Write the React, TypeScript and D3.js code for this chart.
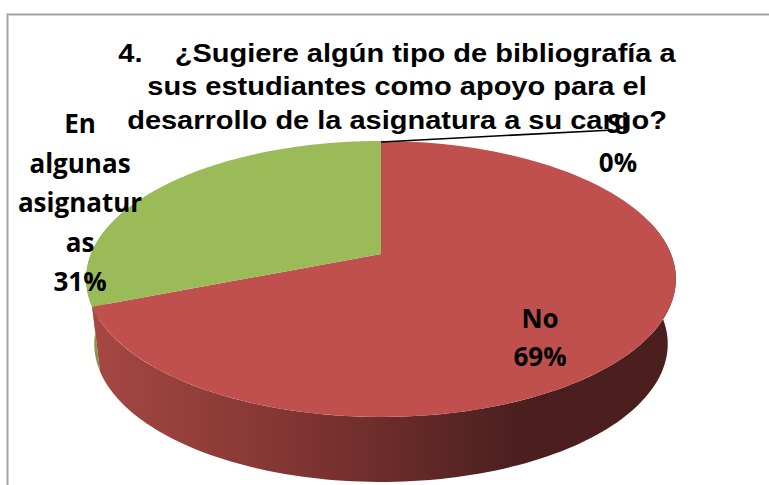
import React from 'react';
import * as d3 from 'd3';

const categories = ['Si', 'No', 'En algunas asignaturas'];
const values = [0, 69, 31];
const topColors = ['#4f81bd', '#bf504d', '#9bbb59'];
const sideColors = ['#3f6797', 'url(#redSide)', '#7f9a48'];
const titleLines = ['4.    ¿Sugiere algún tipo de bibliografía a', 'sus estudiantes como apoyo para el', 'desarrollo de la asignatura a su cargo?'];
const labelLines = [['Si', '0%'], ['No', '69%'], ['En', 'algunas', 'asignatur', 'as', '31%']];
const labelAnchors = [[618, 133], [540, 328], [80, 133]];
const labelStep = [39, 38, 39.5];

const W = 769, H = 485, CX = 381;
const persp = -0.181;
// Perspective projection of a pie angle to the top or bottom rim of the disc
const project = (theta: number, bottom: boolean): [number, number] => {
  const u = Math.sin(theta), v = -Math.cos(theta);
  const d = 1 + persp * v;
  const k = bottom ? 282 : 290;
  const a = bottom ? 75.7 : 87.5;
  const b = bottom ? 319 : 254;
  return [CX + (k * u) / d, (a * v + b) / d];
};

export default function App() {
  const arcs = d3.pie<number>().sort(null).startAngle(0).endAngle(2 * Math.PI)(values);
  const line = d3.line();
  const samples = (a0: number, a1: number, bottom: boolean) =>
    d3.range(0, 121).map(i => project(a0 + ((a1 - a0) * i) / 120, bottom));
  const deg = Math.PI / 180;
  const red = arcs[1];
  const sideRanges: [number, number, number][] = [
    [1, 75 * deg, red.endAngle],
    [2, red.endAngle, 290 * deg],
  ];
  const leaderStart = project(0, false);
  return (
    <svg width={W} height={H} style={{ position: 'absolute', left: 0, top: 0, display: 'block' }}>
      <defs>
        <linearGradient id="redSide" gradientUnits="userSpaceOnUse" x1="90" y1="0" x2="520" y2="0">
          <stop offset="0" stopColor="#a64844" />
          <stop offset="0.5" stopColor="#7f3431" />
          <stop offset="1" stopColor="#4a1f1e" />
        </linearGradient>
      </defs>
      <rect width={W} height={H} fill="#fff" />
      <path d="M7.5 485V14.5H769" fill="none" stroke="#a3a3a3" strokeWidth={2} />
      <text transform="translate(397,0) scale(1.16,1)" fontFamily="'Liberation Sans'" fontWeight="700" fontSize={25} textAnchor="middle" fill="#000" xmlSpace="preserve">
        {titleLines.map((t, i) => (
          <tspan key={i} x={0} y={62 + i * 33.5}>{t}</tspan>
        ))}
      </text>
      {[...sideRanges].reverse().map(([i, a0, a1]) => (
        <path key={i} fill={sideColors[i]}
          d={(line([...samples(a0, a1, false), ...samples(a0, a1, true).reverse()]) as string) + 'Z'} />
      ))}
      {arcs.map((a, i) => a.value > 0 && (
        <path key={i} fill={topColors[i]}
          d={(line([[CX, 254], ...samples(a.startAngle, a.endAngle, false)]) as string) + 'Z'} />
      ))}
      <line x1={leaderStart[0]} y1={leaderStart[1] + 1} x2={613} y2={130} stroke="#000" strokeWidth={1.6} />
      {categories.map((c, i) => (
        <text key={c} fontFamily="'Open Sans'" fontWeight="700" fontSize={26} textAnchor="middle" fill="#000">
          {labelLines[i].map((t, j) => (
            <tspan key={j} x={labelAnchors[i][0]} y={labelAnchors[i][1] + j * labelStep[i]}>{t}</tspan>
          ))}
        </text>
      ))}
    </svg>
  );
}
